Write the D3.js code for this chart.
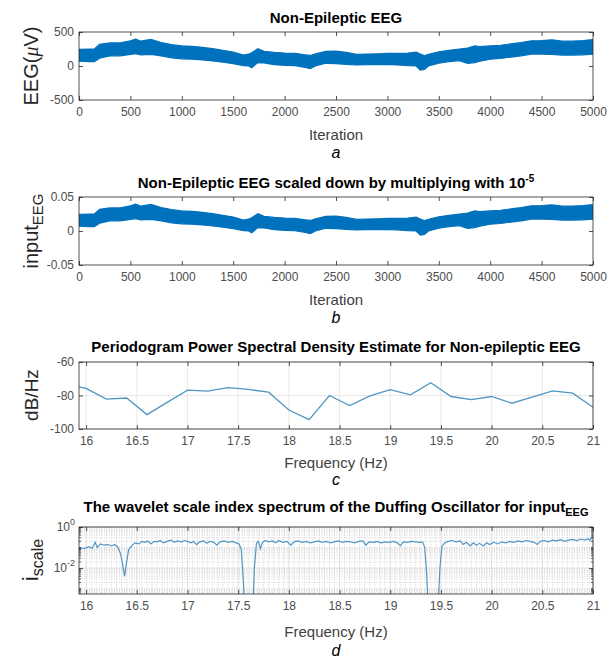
<!DOCTYPE html>
<html>
<head>
<script src="https://d3js.org/d3.v7.min.js"></script>
<style>
    body { margin: 0; background: #fff; }
    svg { font-family: "Liberation Sans", Arial, sans-serif; }
    .tick text { fill: #4d4d4d; font-size: 12px; }
    .domain { display: none; }
    .tick line { stroke: #262626; stroke-width: 0.8; }
</style>
</head>
<body>
<svg id="chart" width="610" height="658"></svg>
<script>
// panel a/b: envelope of the EEG band (iteration, upper, lower in uV)
var iterKnots = [0, 100, 150, 200, 300, 400, 500, 550, 600, 700, 800, 900, 1000, 1100, 1200, 1300, 1400, 1500, 1600, 1650, 1680, 1740, 1800, 1900, 2000, 2100, 2200, 2250, 2300, 2400, 2500, 2600, 2700, 2800, 2900, 3000, 3100, 3200, 3280, 3320, 3360, 3400, 3500, 3600, 3700, 3780, 3850, 3900, 4000, 4100, 4200, 4300, 4400, 4500, 4600, 4700, 4800, 4900, 5000];
var eegUpper = [245, 250, 250, 320, 340, 340, 370, 395, 365, 390, 345, 315, 295, 290, 275, 255, 230, 205, 160, 175, 195, 255, 215, 200, 190, 185, 165, 155, 180, 215, 220, 200, 170, 175, 180, 185, 185, 190, 205, 175, 155, 170, 210, 230, 250, 265, 295, 285, 295, 305, 325, 345, 370, 375, 385, 365, 365, 375, 390];
var eegLower = [70, 65, 65, 115, 150, 150, 170, 180, 165, 170, 150, 120, 105, 100, 90, 75, 55, 35, 5, 0, -25, 50, 45, 20, 10, 5, -20, -40, 0, 40, 35, 25, 15, 20, 20, 20, 15, 5, 0, -60, -50, 0, 40, 65, 80, 40, 50, 70, 100, 110, 130, 150, 175, 175, 170, 160, 160, 165, 175];
var inputScale = 1e-4;
var iterTicks = [0, 500, 1000, 1500, 2000, 2500, 3000, 3500, 4000, 4500, 5000];
var eegTicks = [-500, 0, 500];
var inputTicks = [-0.05, 0, 0.05];

// panel c: periodogram
var psdFreq = [15.8, 16.0, 16.2, 16.4, 16.6, 16.8, 17.0, 17.2, 17.4, 17.6, 17.8, 18.0, 18.2, 18.4, 18.6, 18.8, 19.0, 19.2, 19.4, 19.6, 19.8, 20.0, 20.2, 20.4, 20.6, 20.8, 21.0];
var psdDb = [-73.2, -75.8, -82.2, -81.5, -91.4, -84.1, -76.8, -77.4, -75.3, -76.4, -78.0, -88.7, -94.4, -80.0, -86.0, -80.2, -76.5, -79.6, -72.4, -80.6, -82.4, -80.6, -84.6, -81.0, -77.2, -78.6, -87.0];
var freqTicks = [16, 16.5, 17, 17.5, 18, 18.5, 19, 19.5, 20, 20.5, 21];
var dbTicks = [-100, -80, -60];

// panel d: wavelet scale index
var wavFreq = [15.93, 15.98, 16.03, 16.06, 16.09, 16.11, 16.14, 16.18, 16.22, 16.25, 16.28, 16.31, 16.34, 16.36, 16.38, 16.40, 16.42, 16.45, 16.48, 16.52, 16.55, 16.58, 16.61, 16.64, 16.67, 16.70, 16.73, 16.76, 16.80, 16.84, 16.87, 16.90, 16.94, 16.97, 17.00, 17.03, 17.06, 17.09, 17.12, 17.16, 17.19, 17.22, 17.26, 17.29, 17.32, 17.36, 17.40, 17.44, 17.48, 17.51, 17.53, 17.55, 17.565, 17.645, 17.66, 17.68, 17.70, 17.72, 17.74, 17.77, 17.80, 17.84, 17.87, 17.90, 17.94, 17.98, 18.02, 18.05, 18.09, 18.13, 18.17, 18.21, 18.25, 18.29, 18.33, 18.37, 18.41, 18.45, 18.49, 18.53, 18.57, 18.61, 18.65, 18.69, 18.73, 18.76, 18.79, 18.83, 18.87, 18.91, 18.95, 18.99, 19.03, 19.07, 19.10, 19.13, 19.17, 19.21, 19.25, 19.29, 19.32, 19.34, 19.36, 19.375, 19.47, 19.49, 19.51, 19.54, 19.57, 19.61, 19.65, 19.69, 19.72, 19.75, 19.79, 19.82, 19.85, 19.88, 19.92, 19.95, 19.98, 20.02, 20.06, 20.10, 20.14, 20.18, 20.22, 20.26, 20.30, 20.34, 20.38, 20.42, 20.45, 20.48, 20.52, 20.56, 20.60, 20.64, 20.68, 20.72, 20.76, 20.80, 20.84, 20.88, 20.92, 20.95, 20.97, 20.99, 21.00];
var wavScale = [0.10, 0.09, 0.11, 0.09, 0.18, 0.10, 0.15, 0.13, 0.14, 0.12, 0.14, 0.11, 0.05, 0.015, 0.004, 0.02, 0.08, 0.12, 0.17, 0.15, 0.20, 0.18, 0.21, 0.15, 0.20, 0.19, 0.22, 0.17, 0.20, 0.23, 0.18, 0.21, 0.19, 0.22, 0.20, 0.17, 0.20, 0.14, 0.19, 0.21, 0.16, 0.20, 0.18, 0.13, 0.19, 0.21, 0.18, 0.20, 0.17, 0.15, 0.08, 0.003, 0.0001, 0.0001, 0.01, 0.16, 0.20, 0.09, 0.18, 0.22, 0.19, 0.21, 0.17, 0.22, 0.18, 0.20, 0.13, 0.19, 0.21, 0.18, 0.20, 0.17, 0.19, 0.21, 0.18, 0.20, 0.17, 0.19, 0.21, 0.18, 0.20, 0.19, 0.17, 0.20, 0.21, 0.13, 0.19, 0.18, 0.20, 0.17, 0.19, 0.18, 0.20, 0.17, 0.12, 0.19, 0.18, 0.20, 0.19, 0.18, 0.19, 0.10, 0.005, 0.0001, 0.0001, 0.01, 0.12, 0.17, 0.20, 0.22, 0.19, 0.21, 0.14, 0.18, 0.12, 0.17, 0.13, 0.16, 0.12, 0.17, 0.14, 0.18, 0.15, 0.19, 0.17, 0.20, 0.18, 0.21, 0.19, 0.22, 0.20, 0.18, 0.14, 0.20, 0.22, 0.19, 0.23, 0.21, 0.24, 0.20, 0.23, 0.25, 0.22, 0.26, 0.23, 0.27, 0.22, 0.35, 0.30];
var scaleTicks = [1e-2, 1];
var scaleTickExp = ["-2", "0"];

var svg = d3.select("#chart");
var L = 79, W = 514, CX = L + W / 2;

function panel(top, h, id) {
    var g = svg.append("g").attr("transform", `translate(${L},${top})`);
    g.append("clipPath").attr("id", id).append("rect").attr("width", W).attr("height", h);
    return g;
}

// axes with ticks pointing inward on all four sides, then a box
function frame(g, x, y, h, xt, yt, yfmt) {
    g.append("g").attr("transform", `translate(0,${h})`)
        .call(d3.axisBottom(x).tickValues(xt).tickSize(-4).tickPadding(7).tickFormat(d => String(d)));
    g.append("g").call(d3.axisTop(x).tickValues(xt).tickSize(-4).tickFormat(""));
    g.append("g").call(d3.axisLeft(y).tickValues(yt).tickSize(-4).tickPadding(5).tickFormat(yfmt || (d => String(d))));
    g.append("g").attr("transform", `translate(${W},0)`)
        .call(d3.axisRight(y).tickValues(yt).tickSize(-4).tickFormat(""));
    g.append("rect").attr("width", W).attr("height", h)
        .attr("fill", "none").attr("stroke", "#262626").attr("stroke-width", 0.8);
}

function title(y, txt) {
    return svg.append("text").attr("x", CX).attr("y", y).attr("text-anchor", "middle")
        .style("font-size", "15px").style("font-weight", "bold").attr("fill", "#000").text(txt);
}

function xlabel(y, txt, letter, ly) {
    svg.append("text").attr("x", CX).attr("y", y).attr("text-anchor", "middle")
        .style("font-size", "15px").attr("fill", "#404040").text(txt);
    svg.append("text").attr("x", CX).attr("y", ly).attr("text-anchor", "middle")
        .style("font-size", "16px").style("font-style", "italic").attr("fill", "#000").text(letter);
}

// ---- panel a
var hA = 68;
var xIter = d3.scaleLinear().domain([0, 5000]).range([0, W]);
var yEeg = d3.scaleLinear().domain([-500, 500]).range([hA, 0]);
var gA = panel(32, hA, "clipA");
gA.append("path").datum(iterKnots.map((t, i) => [t, eegLower[i], eegUpper[i]]))
    .attr("clip-path", "url(#clipA)")
    .attr("fill", "#0072BD").attr("stroke", "#0072BD").attr("stroke-width", 1.2)
    .attr("d", d3.area().x(d => xIter(d[0])).y0(d => yEeg(d[1])).y1(d => yEeg(d[2])));
frame(gA, xIter, yEeg, hA, iterTicks, eegTicks);
title(23, "Non-Epileptic EEG");
var ylA = svg.append("text").attr("transform", "translate(38,66)rotate(-90)").attr("text-anchor", "middle")
    .style("font-size", "20px").attr("fill", "#262626");
ylA.append("tspan").text("EEG(");
ylA.append("tspan").style("font-family", "'Liberation Serif', serif").style("font-style", "italic").text("\u03bc");
ylA.append("tspan").text("V)");
xlabel(140, "Iteration", "a", 158);

// ---- panel b
var hB = 68;
var yIn = d3.scaleLinear().domain([-0.05, 0.05]).range([hB, 0]);
var gB = panel(197, hB, "clipB");
gB.append("path").datum(iterKnots.map((t, i) => [t, eegLower[i] * inputScale, eegUpper[i] * inputScale]))
    .attr("clip-path", "url(#clipB)")
    .attr("fill", "#0072BD").attr("stroke", "#0072BD").attr("stroke-width", 1.2)
    .attr("d", d3.area().x(d => xIter(d[0])).y0(d => yIn(d[1])).y1(d => yIn(d[2])));
frame(gB, xIter, yIn, hB, iterTicks, inputTicks);
var tB = title(188, "Non-Epileptic EEG scaled down by multiplying with 10");
tB.append("tspan").attr("dy", -6).style("font-size", "10px").text("-5");
var ylB = svg.append("text").attr("transform", "translate(38,231)rotate(-90)").attr("text-anchor", "middle")
    .style("font-size", "20px").attr("fill", "#262626");
ylB.append("tspan").text("input");
ylB.append("tspan").attr("dy", 5).style("font-size", "15px").text("EEG");
xlabel(305, "Iteration", "b", 323);

// ---- panel c
var hC = 67;
var xFreq = d3.scaleLinear().domain([15.93, 21]).range([0, W]);
var yDb = d3.scaleLinear().domain([-100, -60]).range([hC, 0]);
var gC = panel(362, hC, "clipC");
gC.append("g").selectAll("line").data(freqTicks).join("line")
    .attr("x1", d => xFreq(d)).attr("x2", d => xFreq(d)).attr("y1", 0).attr("y2", hC)
    .attr("stroke", "#e3e3e3").attr("stroke-width", 0.8);
gC.append("g").selectAll("line").data(dbTicks).join("line")
    .attr("x1", 0).attr("x2", W).attr("y1", d => yDb(d)).attr("y2", d => yDb(d))
    .attr("stroke", "#e3e3e3").attr("stroke-width", 0.8);
gC.append("path").datum(psdFreq.map((f, i) => [f, psdDb[i]]))
    .attr("clip-path", "url(#clipC)")
    .attr("fill", "none").attr("stroke", "#5096c4").attr("stroke-width", 1.3)
    .attr("d", d3.line().x(d => xFreq(d[0])).y(d => yDb(d[1])));
frame(gC, xFreq, yDb, hC, freqTicks, dbTicks);
title(352, "Periodogram Power Spectral Density Estimate for Non-epileptic EEG");
svg.append("text").attr("transform", "translate(38,395)rotate(-90)").attr("text-anchor", "middle")
    .style("font-size", "19px").attr("fill", "#262626").text("dB/Hz");
xlabel(468, "Frequency (Hz)", "c", 485);

// ---- panel d
var hD = 67;
var yScl = d3.scaleLog().domain([Math.pow(10, -3.26), 1]).range([hD, 0]);
var gD = panel(527, hD, "clipD");
var minorX = d3.range(319, 421).map(k => k * 0.05).filter(f => freqTicks.indexOf(Math.round(f * 100) / 100) < 0);
var minorY = [];
[-4, -3, -2, -1].forEach(e => { for (var m = 1; m <= 9; m++) { var v = m * Math.pow(10, e); if (v > yScl.domain()[0] && v < 1 && !(m === 1 && e === -2)) minorY.push(v); } });
gD.append("g").selectAll("line").data(minorX).join("line")
    .attr("x1", d => xFreq(d)).attr("x2", d => xFreq(d)).attr("y1", 0).attr("y2", hD)
    .attr("stroke", "#bdbdbd").attr("stroke-width", 0.6).attr("stroke-dasharray", "1,1.5");
gD.append("g").selectAll("line").data(minorY).join("line")
    .attr("x1", 0).attr("x2", W).attr("y1", d => yScl(d)).attr("y2", d => yScl(d))
    .attr("stroke", "#bdbdbd").attr("stroke-width", 0.6).attr("stroke-dasharray", "1,1.5");
gD.append("g").selectAll("line").data(freqTicks).join("line")
    .attr("x1", d => xFreq(d)).attr("x2", d => xFreq(d)).attr("y1", 0).attr("y2", hD)
    .attr("stroke", "#d6d6d6").attr("stroke-width", 0.8);
gD.append("g").selectAll("line").data(scaleTicks).join("line")
    .attr("x1", 0).attr("x2", W).attr("y1", d => yScl(d)).attr("y2", d => yScl(d))
    .attr("stroke", "#d6d6d6").attr("stroke-width", 0.8);
gD.append("path").datum(wavFreq.map((f, i) => [f, wavScale[i]]))
    .attr("clip-path", "url(#clipD)")
    .attr("fill", "none").attr("stroke", "#5096c4").attr("stroke-width", 1.2)
    .attr("d", d3.line().x(d => xFreq(d[0])).y(d => yScl(d[1])));
frame(gD, xFreq, yScl, hD, freqTicks, scaleTicks, () => "");
// small ticks at the minor log positions
gD.append("g").selectAll("line").data(minorY).join("line")
    .attr("x1", 0).attr("x2", 2).attr("y1", d => yScl(d)).attr("y2", d => yScl(d))
    .attr("stroke", "#262626").attr("stroke-width", 0.7);
gD.append("g").selectAll("line").data(minorY).join("line")
    .attr("x1", W - 2).attr("x2", W).attr("y1", d => yScl(d)).attr("y2", d => yScl(d))
    .attr("stroke", "#262626").attr("stroke-width", 0.7);
var yl = gD.append("g").selectAll("text").data(scaleTicks).join("text")
    .attr("x", -4).attr("y", d => yScl(d) + 4).attr("text-anchor", "end")
    .style("font-size", "12px").attr("fill", "#4d4d4d").text("10");
yl.append("tspan").attr("dy", -6).style("font-size", "9px").text((d, i) => scaleTickExp[i]);
var tD = title(512, "The wavelet scale index spectrum of the Duffing Oscillator for input");
tD.append("tspan").attr("dy", 4).style("font-size", "11px").text("EEG");
var ylD = svg.append("text").attr("transform", "translate(38,560)rotate(-90)").attr("text-anchor", "middle")
    .style("font-size", "22px").attr("fill", "#262626");
ylD.append("tspan").text("i");
ylD.append("tspan").attr("dy", 5).style("font-size", "16px").text("scale");
xlabel(637, "Frequency (Hz)", "d", 656);
</script>
</body>
</html>
